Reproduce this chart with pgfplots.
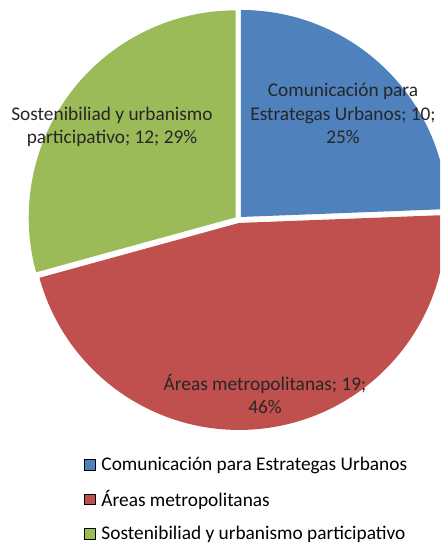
\documentclass[border=0pt]{standalone}
\usepackage{fontspec}
\setmainfont{Carlito}
\usepackage{pgfplots}
\usepackage{pgfplotstable}
\pgfplotsset{compat=1.18}
\definecolor{cblue}{HTML}{4F81BD}
\definecolor{cred}{HTML}{C0504D}
\definecolor{cgreen}{HTML}{9BBB59}
\pgfplotstableread{
value
10
19
12
}\piedata
\newcommand\lfont{\fontsize{14.5pt}{17.6pt}\selectfont}
\newcommand\wedgeslice[3]{%
  \pgfmathsetmacro\midang{(#2+#3)/2}%
  \pgfmathsetmacro\cx{238.5+3.5*cos(\midang)}%
  \pgfmathsetmacro\cy{325.5+3.5*sin(\midang)}%
  \edef\tmpwedge{\noexpand\fill[#1] (axis cs:\cx,\cy) -- ++(#2:155.25pt) arc[start angle=#2, end angle=#3, radius=155.25pt] -- cycle;}%
  \tmpwedge
}
\begin{document}
\begin{tikzpicture}
\pgfplotstablegetelem{0}{value}\of\piedata \let\va\pgfplotsretval
\pgfplotstablegetelem{1}{value}\of\piedata \let\vb\pgfplotsretval
\pgfplotstablegetelem{2}{value}\of\piedata \let\vc\pgfplotsretval
\pgfmathsetmacro\tot{\va+\vb+\vc}
\pgfmathsetmacro\angA{90-360*\va/\tot}
\pgfmathsetmacro\angB{\angA-360*\vb/\tot}
\pgfmathsetmacro\angC{\angB-360*\vc/\tot}
\begin{axis}[
  at={(0,0)}, anchor=south west,
  x=0.75pt, y=0.75pt, xmin=0, xmax=440, ymin=0, ymax=545,
  scale only axis, hide axis, clip=true,
  legend style={at={(axis cs:84,90.5)}, anchor=north west, draw=none, fill=none,
    font=\lfont, row sep=9pt, inner sep=0pt, cells={anchor=west}},
  legend cell align=left,
  legend image code/.code={\fill[#1] (0pt,-4.1pt) rectangle (8.25pt,4.1pt); \path (10.5pt,0pt);},
]
\addlegendimage{fill=cblue}
\addlegendentry{Comunicación para Estrategas Urbanos}
\addlegendimage{fill=cred}
\addlegendentry{Áreas metropolitanas}
\addlegendimage{fill=cgreen}
\addlegendentry{Sostenibiliad y urbanismo participativo}
\wedgeslice{cblue}{90}{\angA}
\wedgeslice{cred}{\angA}{\angB}
\wedgeslice{cgreen}{\angB}{\angC}
\node[align=center, font=\lfont, text=black!85] at (axis cs:343,431.5) {Comunicación para\\Estrategas Urbanos; 10;\\25\%};
\node[align=center, font=\lfont, text=black!85] at (axis cs:112,418) {Sostenibiliad y urbanismo\\participativo; 12; 29\%};
\node[align=center, font=\lfont, text=black!85] at (axis cs:265,151) {Áreas metropolitanas; 19;\\46\%};
\end{axis}
\pgfresetboundingbox
\useasboundingbox (0,0) rectangle (330pt,408.75pt);
\end{tikzpicture}
\end{document}
